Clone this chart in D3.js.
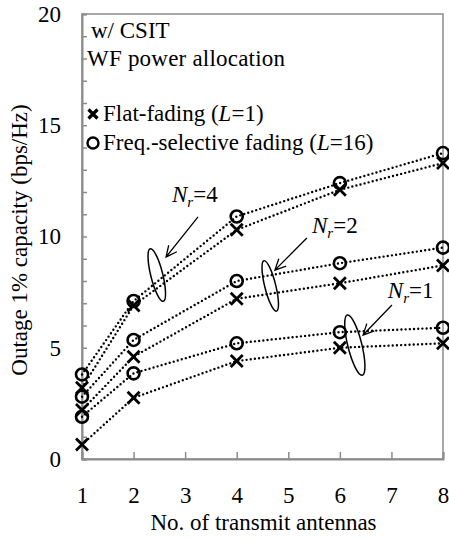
<!DOCTYPE html>
<html><head><meta charset="utf-8"><script src="https://cdn.jsdelivr.net/npm/d3@7"></script></head>
<body style="margin:0">
<script>
var antennas = [1, 2, 4, 6, 8];
var flat_nr4 = [3.2, 6.9, 10.3, 12.1, 13.3];
var freq_nr4 = [3.8, 7.1, 10.9, 12.4, 13.75];
var flat_nr2 = [2.2, 4.6, 7.2, 7.9, 8.7];
var freq_nr2 = [2.8, 5.35, 8.0, 8.8, 9.5];
var flat_nr1 = [0.65, 2.75, 4.4, 5.0, 5.2];
var freq_nr1 = [1.9, 3.85, 5.2, 5.7, 5.9];
var xTicks = [1, 2, 3, 4, 5, 6, 7, 8];
var yTicks = d3.range(0, 21, 1);

// annotations in data units: label pos, arrow from/to, loop centre
var notes = [
  {nr: "4", lx: 2.745, ly: 11.55, ax1: 3.25, ay1: 10.88, ax2: 2.63, ay2: 9.08, ex: 2.45, ey: 8.27, rx: 6, ry: 27},
  {nr: "2", lx: 5.46, ly: 10.16, ax1: 5.36, ay1: 9.93, ax2: 4.74, ay2: 8.49, ex: 4.65, ey: 7.78, rx: 5.5, ry: 26},
  {nr: "1", lx: 6.93, ly: 7.24, ax1: 7.01, ay1: 6.92, ax2: 6.45, ay2: 5.57, ex: 6.29, ey: 5.12, rx: 7, ry: 31}
];

var w = 449, h = 540,
    p = {top: 14, right: 6, bot: 81, left: 82};
var fs = 23;
var serif = "'Liberation Serif'";

var svg = d3.select("body").append("svg")
  .attr("width", w)
  .attr("height", h);

var x = d3.scaleLinear().domain([1, 8]).range([p.left, w - p.right]);
var y = d3.scaleLinear().domain([0, 20]).range([h - p.bot, p.top]);

// frame
svg.append("rect")
  .attr("x", p.left).attr("y", p.top)
  .attr("width", w - p.right - p.left)
  .attr("height", h - p.bot - p.top)
  .style("fill", "none")
  .style("stroke", "#8c8c8c")
  .style("stroke-width", 1.5);

var yAxis = d3.axisLeft(y).tickValues(yTicks).tickSize(-5).tickPadding(21)
  .tickFormat(function(d){ return d % 5 == 0 ? d : ""; });
var yg = svg.append("g")
  .attr("transform", "translate(" + p.left + ",0)")
  .call(yAxis);

var xAxis = d3.axisBottom(x).tickValues(xTicks).tickSize(-7).tickPadding(28)
  .tickFormat(d3.format("d"));
var xg = svg.append("g")
  .attr("transform", "translate(0," + (h - p.bot) + ")")
  .call(xAxis);

[yg, xg].forEach(function(g){
  g.select(".domain").style("stroke", "#8c8c8c").style("stroke-width", 2);
  g.selectAll(".tick line").style("stroke", "#8c8c8c").style("stroke-width", 1.5);
  g.selectAll(".tick text").style("font-family", serif).style("font-size", fs + "px")
    .style("fill", "#000");
});

function txt(px) {
  return svg.append("text")
    .style("font-family", serif)
    .style("font-size", (px || fs) + "px");
}

// axis titles
txt().attr("x", (p.left + w - p.right) / 2 + 1)
  .attr("y", 530)
  .style("text-anchor", "middle")
  .text("No. of transmit antennas");

txt().attr("transform", "translate(27,240) rotate(-90)")
  .style("text-anchor", "middle")
  .text("Outage 1% capacity (bps/Hz)");

// series
var series = [
  {v: flat_nr4, m: "x"}, {v: freq_nr4, m: "o"},
  {v: flat_nr2, m: "x"}, {v: freq_nr2, m: "o"},
  {v: flat_nr1, m: "x"}, {v: freq_nr1, m: "o"}
];

var line = d3.line()
  .x(function(d, i){ return x(antennas[i]); })
  .y(function(d){ return y(d); });

series.forEach(function(s){
  svg.append("path")
    .datum(s.v)
    .attr("d", line)
    .style("fill", "none")
    .style("stroke", "#000")
    .style("stroke-width", 2.4)
    .style("stroke-linecap", "round")
    .style("stroke-dasharray", "0,4.2");
});

function cross(cx, cy, k) {
  return "M" + (cx - k) + "," + (cy - k) + "L" + (cx + k) + "," + (cy + k) +
         "M" + (cx - k) + "," + (cy + k) + "L" + (cx + k) + "," + (cy - k);
}

series.forEach(function(s){
  s.v.forEach(function(d, i){
    var cx = x(antennas[i]), cy = y(d);
    if (s.m == "o") {
      svg.append("circle")
        .attr("cx", cx).attr("cy", cy).attr("r", 6)
        .style("fill", "none").style("stroke", "#000").style("stroke-width", 2.6);
    } else {
      svg.append("path").attr("d", cross(cx, cy, 6))
        .style("stroke", "#000").style("stroke-width", 2.8);
    }
  });
});

// legend
txt().attr("x", 91).attr("y", 38).text("w/ CSIT");
txt().attr("x", 87).attr("y", 66).attr("textLength", 198).text("WF power allocation");

var l1 = txt().attr("x", 103).attr("y", 121);
l1.append("tspan").text("Flat-fading (");
l1.append("tspan").style("font-style", "italic").text("L");
l1.append("tspan").text("=1)");
var l2 = txt().attr("x", 103).attr("y", 150);
l2.append("tspan").text("Freq.-selective  fading (");
l2.append("tspan").style("font-style", "italic").text("L");
l2.append("tspan").text("=16)");

svg.append("path").attr("d", cross(93, 114, 4.5))
  .style("stroke", "#000").style("stroke-width", 3.2);
svg.append("circle").attr("cx", 93).attr("cy", 143).attr("r", 5.5)
  .style("fill", "none").style("stroke", "#000").style("stroke-width", 2.4);

// annotations: label, arrow, loop round the pair of curves
notes.forEach(function(n){
  var t = txt().attr("x", x(n.lx)).attr("y", y(n.ly));
  t.append("tspan").style("font-style", "italic").text("N");
  t.append("tspan").style("font-style", "italic").style("font-size", "15px")
    .attr("dy", 5).text("r");
  t.append("tspan").attr("dy", -5).text("=" + n.nr);

  var x1 = x(n.ax1), y1 = y(n.ay1), x2 = x(n.ax2), y2 = y(n.ay2);
  var a = Math.atan2(y2 - y1, x2 - x1), hl = 12, ha = 0.45;
  svg.append("path")
    .attr("d", "M" + x1 + "," + y1 + "L" + x2 + "," + y2 +
               "M" + (x2 - hl * Math.cos(a - ha)) + "," + (y2 - hl * Math.sin(a - ha)) +
               "L" + x2 + "," + y2 +
               "L" + (x2 - hl * Math.cos(a + ha)) + "," + (y2 - hl * Math.sin(a + ha)))
    .style("fill", "none").style("stroke", "#000").style("stroke-width", 1.3);

  var cx = x(n.ex), cy = y(n.ey), phi = -14, r = phi * Math.PI / 180;
  var px = n.ry * Math.sin(r), py = -n.ry * Math.cos(r);
  svg.append("path")
    .attr("d", "M" + (cx + px) + "," + (cy + py) +
               "A" + n.rx + "," + n.ry + " " + phi + " 0 1 " + (cx - px) + "," + (cy - py) +
               "A" + n.rx + "," + n.ry + " " + phi + " 0 1 " + (cx + px) + "," + (cy + py))
    .style("fill", "none").style("stroke", "#000").style("stroke-width", 1.5);
});
</script>
</body>
</html>
